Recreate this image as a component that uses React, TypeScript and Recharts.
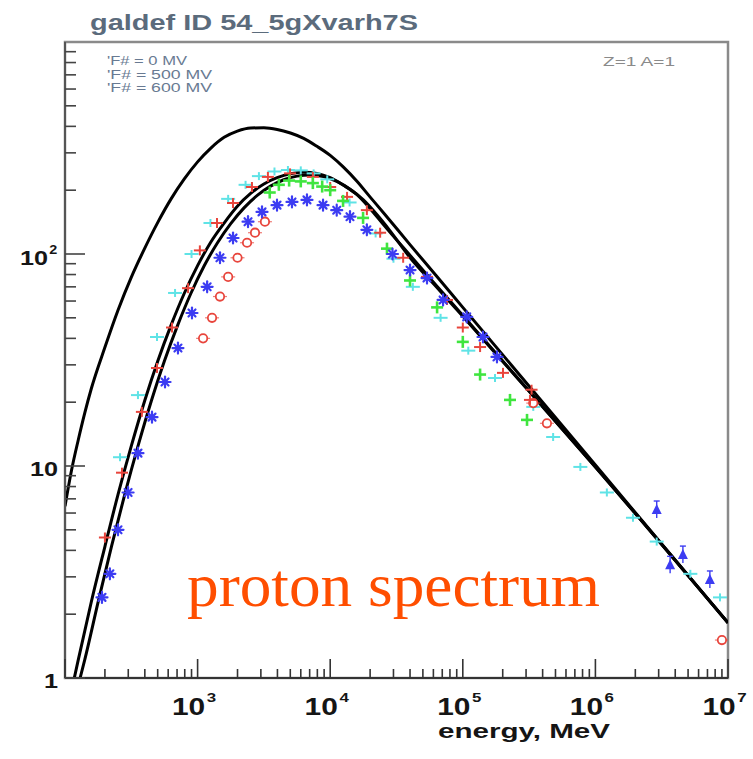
import React from "react";
import { ComposedChart, Line, Scatter, XAxis, YAxis, ReferenceArea } from "recharts";

// model curves (force-field modulated proton spectra)
const phi0E = [100, 112, 126, 141, 158, 200, 251, 316, 398, 501, 631, 794, 1000, 1259, 1585, 1995, 2512, 3162, 3981, 5012, 6310, 7943, 10000, 12589, 15849, 19953, 25119, 39811, 63096, 1e5, 1e6, 1e7];
const phi0V = [6.46, 9.55, 13.3, 17.8, 23.2, 36.3, 54.3, 77.6, 106, 141, 182, 226, 272, 316, 355, 380, 393, 394, 387, 372, 351, 322, 292, 257, 221, 186, 157, 111, 78.9, 56, 10.1, 1.82];

const phi500E = [117.5, 126, 158, 200, 251, 316, 398, 501, 631, 794, 1000, 1259, 1585, 1995, 2512, 3162, 3981, 5012, 6310, 7943, 10000, 12589, 15849, 19953, 25119, 39811, 63096, 1e5, 316228, 1e6, 1e7];
const phi500V = [1.0, 1.22, 2.29, 4.17, 7.33, 12.4, 20.2, 31.3, 46.2, 65.3, 88.1, 114, 140, 168, 193, 214, 229, 239, 243, 240, 229, 211, 191, 164, 138, 98.9, 71.1, 51.3, 22.6, 9.9, 1.82];

const phi600E = [130, 141, 178, 224, 282, 355, 447, 562, 708, 891, 1122, 1413, 1778, 2239, 2818, 3548, 4467, 5623, 7079, 8913, 11220, 14125, 17783, 22387, 28184, 39811, 63096, 1e5, 316228, 1e6, 1e7];
const phi600V = [1.0, 1.22, 2.29, 4.17, 7.33, 12.4, 20.2, 31.3, 46.2, 65.3, 88, 113, 139, 165, 189, 209, 224, 233, 236, 232, 220, 202, 180, 154, 129, 96.5, 70, 50.8, 22.5, 9.9, 1.82];

// measurements
const cyanE = [260, 355, 494, 676, 900, 1250, 1700, 2300, 2900, 3800, 4800, 6000, 7500, 9500, 14000, 22000, 30000, 42000, 68000, 110000, 175000, 340000, 480000, 770000, 1.22e6, 1.92e6, 2.9e6, 5.2e6, 8.7e6];
const cyanV = [11, 21.6, 40.6, 65.5, 100, 140, 182, 212, 233, 245, 249, 248, 240, 225, 175, 125, 95, 70, 50, 35, 26, 19, 13.7, 9.9, 7.5, 5.7, 4.4, 3.1, 2.4];

const redE = [200, 269, 380, 494, 641, 847, 1040, 1400, 1850, 2570, 3390, 4980, 7400, 10000, 13400, 18900, 23800, 35500, 53700, 76000, 100000, 135000, 201000, 321000, 330000];
const redV = [4.6, 9.3, 18, 29, 45, 69, 104, 140, 174, 207, 231, 240, 231, 207, 186, 161, 126, 96, 78, 60.7, 45, 36.4, 27.5, 20.5, 22.9];

const ringE = [1100, 1285, 1475, 1700, 2000, 2360, 2710, 3220, 340000, 431000, 9e6];
const ringV = [40, 50, 63, 78, 96, 113, 126, 142, 19.8, 15.9, 1.51];

const blueE = [190, 218, 251, 299, 355, 453, 568, 711, 907, 1180, 1475, 1850, 2400, 3060, 3970, 5150, 6680, 8830, 11200, 14100, 18900, 29500, 40000, 53700, 71000, 107000, 142000, 181000];
const blueV = [2.4, 3.1, 5, 7.5, 11.5, 17, 24.9, 36, 52.7, 70, 96, 119, 142, 158, 170, 176, 180, 170, 161, 150, 130, 100, 84, 77, 60.7, 50.5, 40.6, 32.7];

const triE = [2.9e6, 3.66e6, 4.57e6, 7.3e6];
const triV = [6.2, 3.4, 3.8, 2.9];

const greenE = [3500, 4100, 4900, 6000, 7400, 8700, 10000, 12500, 17700, 26800, 40000, 64000, 100000, 135000, 227000, 305000];
const greenV = [195, 212, 222, 220, 216, 208, 200, 178, 148, 106, 75, 56, 38.5, 27, 20.5, 16.5];

const xTicks = [1e2, 2e2, 3e2, 4e2, 5e2, 6e2, 7e2, 8e2, 9e2, 1e3, 2e3, 3e3, 4e3, 5e3, 6e3, 7e3, 8e3, 9e3, 1e4, 2e4, 3e4, 4e4, 5e4, 6e4, 7e4, 8e4, 9e4, 1e5, 2e5, 3e5, 4e5, 5e5, 6e5, 7e5, 8e5, 9e5, 1e6, 2e6, 3e6, 4e6, 5e6, 6e6, 7e6, 8e6, 9e6, 1e7];
const yTicks = [1, 2, 3, 4, 5, 6, 7, 8, 9, 10, 20, 30, 40, 50, 60, 70, 80, 90, 100, 200, 300, 400, 500, 600, 700, 800, 900, 1000];

const pts = (e: number[], v: number[]) => e.map((x, i) => ({ e: x, v: v[i] }));

const CYAN = "#5fe3e6";
const RED = "#e8453c";
const BLUE = "#3c3cf2";
const GREEN = "#3fe53f";
const FONT = "'Liberation Sans', Arial, sans-serif";

const isDecade = (v: number) => {
  const p = Math.round(Math.log10(v));
  return Math.abs(v - Math.pow(10, p)) < 1e-6 * v;
};

function XTick(props: any) {
  const { x, y, payload } = props;
  const v = payload.value;
  const major = isDecade(v);
  const exp = Math.round(Math.log10(v));
  return (
    <g>
      <line x1={x} x2={x} y1={y} y2={y - (major ? 19 : 9)} stroke="#333" strokeWidth={1.6} />
      {major && exp >= 3 && (
        <g transform={`translate(${x - 9},${y + 37}) scale(1.3,1)`}>
          <text textAnchor="middle" fontFamily={FONT} fontWeight="bold" fontSize={23} fill="#151515">10</text>
          <text x={14} y={-13} fontFamily={FONT} fontWeight="bold" fontSize={13} fill="#151515">{exp}</text>
        </g>
      )}
    </g>
  );
}

function YTick(props: any) {
  const { x, y, payload } = props;
  const v = payload.value;
  const major = isDecade(v);
  let label: React.ReactNode = null;
  if (v === 1 || v === 10) {
    label = (
      <g transform={`translate(${x - 7},${y + 10}) scale(1.2,1)`}>
        <text textAnchor="end" fontFamily={FONT} fontWeight="bold" fontSize={21} fill="#151515">{String(v)}</text>
      </g>
    );
  } else if (v === 100) {
    label = (
      <g transform={`translate(${x - 17},${y + 11}) scale(1.2,1)`}>
        <text textAnchor="end" fontFamily={FONT} fontWeight="bold" fontSize={21} fill="#151515">10</text>
        <text x={1} y={-11} fontFamily={FONT} fontWeight="bold" fontSize={12} fill="#151515">2</text>
      </g>
    );
  }
  return (
    <g>
      {v < 1000 && (
        <line x1={x} x2={x + (major ? 20 : 11)} y1={y} y2={y} stroke="#444" strokeWidth={1.6} />
      )}
      {label}
    </g>
  );
}

const plus = (color: string, w: number, h: number, sw: number) => (p: any) => (
  <g stroke={color} strokeWidth={sw}>
    <line x1={p.cx - w} x2={p.cx + w} y1={p.cy} y2={p.cy} />
    <line x1={p.cx} x2={p.cx} y1={p.cy - h} y2={p.cy + h} />
  </g>
);

const ring = (p: any) => (
  <g>
    <line x1={p.cx - 7} x2={p.cx + 7} y1={p.cy} y2={p.cy} stroke={RED} strokeWidth={1.2} opacity={0.7} />
    <circle cx={p.cx} cy={p.cy} r={4.2} fill="#fff" stroke={RED} strokeWidth={1.8} />
  </g>
);

const star = (p: any) => (
  <g stroke={BLUE} strokeWidth={2.2} strokeLinecap="round">
    <line x1={p.cx - 5.5} x2={p.cx + 5.5} y1={p.cy} y2={p.cy} />
    <line x1={p.cx} x2={p.cx} y1={p.cy - 5.5} y2={p.cy + 5.5} />
    <line x1={p.cx - 3.5} x2={p.cx + 3.5} y1={p.cy - 3.5} y2={p.cy + 3.5} />
    <line x1={p.cx - 3.5} x2={p.cx + 3.5} y1={p.cy + 3.5} y2={p.cy - 3.5} />
  </g>
);

const tri = (p: any) => (
  <g>
    <line x1={p.cx} x2={p.cx} y1={p.cy - 9} y2={p.cy + 8} stroke={BLUE} strokeWidth={1.4} />
    <line x1={p.cx - 3} x2={p.cx + 3} y1={p.cy - 9} y2={p.cy - 9} stroke={BLUE} strokeWidth={1.4} />
    <path d={`M${p.cx},${p.cy - 6} L${p.cx + 5},${p.cy + 4} L${p.cx - 5},${p.cy + 4} Z`} fill={BLUE} />
  </g>
);

export default function App() {
  return (
    <div style={{ position: "absolute", left: 0, top: 0, width: 753, height: 759, background: "#fff" }}>
      <ComposedChart
        width={753}
        height={759}
        margin={{ top: 42, right: 25, bottom: 21, left: 5 }}
      >
        <ReferenceArea x1={100} x2={1e7} y1={1} y2={1000} fill="none" stroke="#8a8a8a" strokeWidth={2.5} ifOverflow="visible" />
        <XAxis
          dataKey="e"
          type="number"
          scale="log"
          domain={[100, 1e7]}
          allowDataOverflow
          ticks={xTicks}
          interval={0}
          tick={(p: any) => <XTick {...p} />}
          tickLine={false}
          tickSize={0}
          tickMargin={0}
          height={60}
          axisLine={{ stroke: "#333", strokeWidth: 2 }}
        />
        <YAxis
          dataKey="v"
          type="number"
          scale="log"
          domain={[1, 1000]}
          allowDataOverflow
          ticks={yTicks}
          interval={0}
          tick={(p: any) => <YTick {...p} />}
          tickLine={false}
          tickSize={0}
          tickMargin={0}
          width={60}
          axisLine={{ stroke: "#555", strokeWidth: 2 }}
        />
        <Line data={pts(phi0E, phi0V)} dataKey="v" type="monotone" stroke="#000" strokeWidth={3} dot={false} isAnimationActive={false} />
        <Line data={pts(phi500E, phi500V)} dataKey="v" type="monotone" stroke="#000" strokeWidth={3} dot={false} isAnimationActive={false} />
        <Line data={pts(phi600E, phi600V)} dataKey="v" type="monotone" stroke="#000" strokeWidth={3} dot={false} isAnimationActive={false} />
        <Scatter data={pts(cyanE, cyanV)} dataKey="v" shape={plus(CYAN, 7, 4, 2)} isAnimationActive={false} />
        <Scatter data={pts(ringE, ringV)} dataKey="v" shape={ring} isAnimationActive={false} />
        <Scatter data={pts(redE, redV)} dataKey="v" shape={plus(RED, 6, 5, 2)} isAnimationActive={false} />
        <Scatter data={pts(greenE, greenV)} dataKey="v" shape={plus(GREEN, 6, 6, 2.6)} isAnimationActive={false} />
        <Scatter data={pts(blueE, blueV)} dataKey="v" shape={star} isAnimationActive={false} />
        <Scatter data={pts(triE, triV)} dataKey="v" shape={tri} isAnimationActive={false} />
      </ComposedChart>
      <svg width={753} height={759} style={{ position: "absolute", left: 0, top: 0, pointerEvents: "none" }}>
        <text x={90} y={30} fontFamily={FONT} fontWeight="bold" fontSize={22} fill="#5b6b7c" textLength={328} lengthAdjust="spacingAndGlyphs">
          galdef ID 54_5gXvarh7S
        </text>
        <g fontFamily={FONT} fontSize={12} fill="#687a92">
          <text x={107} y={65} textLength={80} lengthAdjust="spacingAndGlyphs">'F# = 0 MV</text>
          <text x={107} y={79} textLength={105} lengthAdjust="spacingAndGlyphs">'F# = 500 MV</text>
          <text x={107} y={92} textLength={105} lengthAdjust="spacingAndGlyphs">'F# = 600 MV</text>
        </g>
        <text x={603} y={66} fontFamily={FONT} fontSize={12} fill="#8a8a8a" textLength={72} lengthAdjust="spacingAndGlyphs">Z=1 A=1</text>
        <text x={187} y={606} fontFamily="'Liberation Serif', 'Times New Roman', serif" fontSize={62} fill="#ff4e00" textLength={413} lengthAdjust="spacingAndGlyphs">
          proton spectrum
        </text>
        <text x={438} y={738} fontFamily={FONT} fontWeight="bold" fontSize={21} fill="#151515" textLength={172} lengthAdjust="spacingAndGlyphs">
          energy, MeV
        </text>
      </svg>
    </div>
  );
}
